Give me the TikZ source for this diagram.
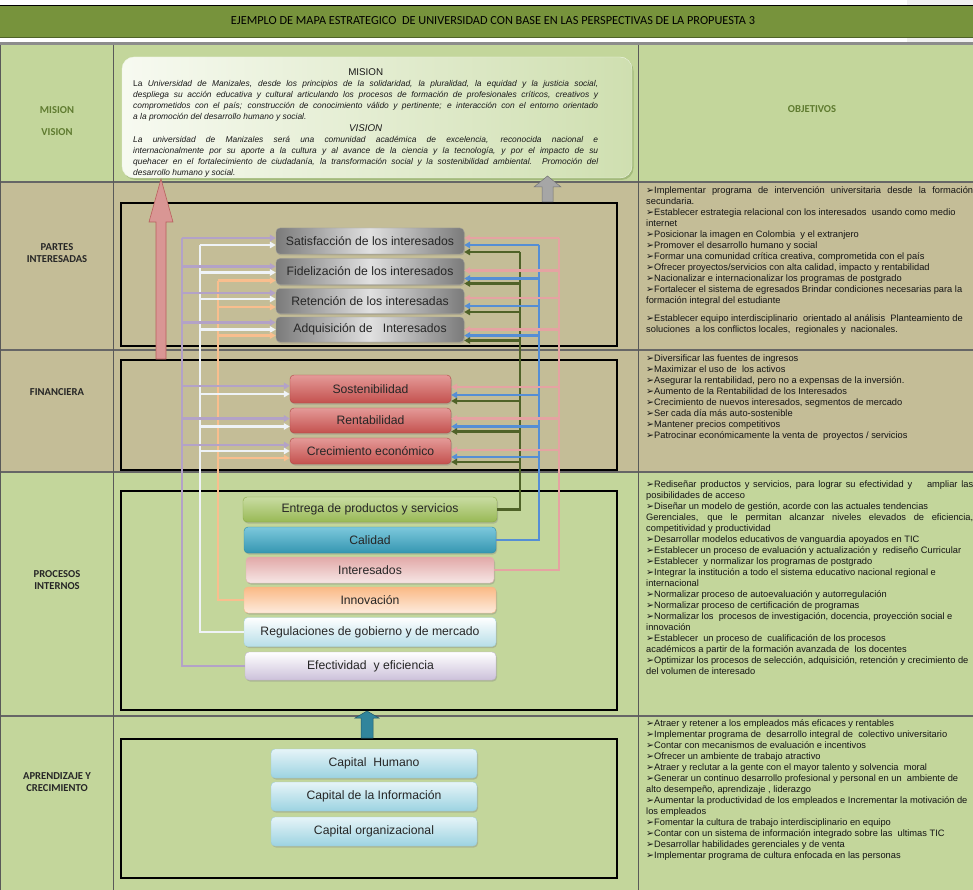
\documentclass[tikz,border=0pt]{standalone}
\usepackage{fontspec}
\setmainfont{Liberation Sans}
\newfontfamily\calfont{Carlito}
\newfontfamily\symfont{DejaVu Sans}
\usetikzlibrary{arrows.meta,calc,shadows}

\definecolor{hdrgreen}{HTML}{77933C}
\definecolor{hdrdark}{HTML}{4F6228}
\definecolor{rowgreen}{HTML}{C3D69B}
\definecolor{rowtan}{HTML}{C4BD97}
\definecolor{labelolive}{HTML}{5F7B30}
\definecolor{lavc}{HTML}{B3A2C7}
\definecolor{whitec}{HTML}{EFF3F7}
\definecolor{orangec}{HTML}{F9BE8E}
\definecolor{olivec}{HTML}{4F6228}
\definecolor{bluec}{HTML}{558ED5}
\definecolor{pinkc}{HTML}{E5A3A2}
\definecolor{bigpink}{HTML}{D99694}
\definecolor{bigpinkdark}{HTML}{B8605D}
\definecolor{tealarrow}{HTML}{31859C}
\definecolor{tealdark}{HTML}{215968}
\definecolor{textdark}{HTML}{262626}
% shading palette, named after its hex value
\newcommand\hexcolor[1]{\definecolor{HTML-#1}{HTML}{#1}}
\hexcolor{E49A98}\hexcolor{C4514E}\hexcolor{B04745}
\hexcolor{E6F4F8}\hexcolor{9CD3E1}\hexcolor{9CCBD8}
\hexcolor{F7FAF1}\hexcolor{CFDFB0}\hexcolor{EEF4E4}\hexcolor{7E9A55}
\hexcolor{C9DCA2}\hexcolor{98B955}\hexcolor{8AAA48}
\hexcolor{7CC8DC}\hexcolor{3596B1}\hexcolor{2F8AA3}
\hexcolor{E2A9A8}\hexcolor{F6E6E5}\hexcolor{E0B0AF}
\hexcolor{FAB985}\hexcolor{FDEBDD}\hexcolor{F5B888}
\hexcolor{B7DEE8}\hexcolor{A5D5E2}\hexcolor{CCC1DA}\hexcolor{C0B4D0}

% text helpers: bullet glyph, justified / natural / centred lines, line blocks
\newcommand\bulletmark{{\symfont\fontsize{9.5}{9.5}\selectfont ➢}}
\newcommand\fullline[1]{\hbox to\hsize{#1}}
\newcommand\plainline[1]{\hbox{#1}}
\newcommand\midline[1]{\hbox to\hsize{\hfil#1\hfil}}
\newcommand\textblock[2]{\vbox{\hsize=#1\relax #2}}

% arrowed branch from a vertical bus into a box side
\newcommand\branchW[4]{\coordinate (brpt) at ($(#3.west)+(0,#4)$);\draw[#1,tip] (#2 |- brpt) -- (brpt);}
\newcommand\branchE[4]{\coordinate (brpt) at ($(#3.east)+(0,#4)$);\draw[#1,tip] (#2 |- brpt) -- (brpt);}

\tikzset{
  rowsep/.style={draw=black!60, line width=1.2pt},
  colsep/.style={draw=black!65, line width=0.8pt},
  frame/.style={draw=black, line width=2.6pt},
  lbl/.style={font=\calfont\bfseries\fontsize{10.6}{11.5}\selectfont, text=black!85, align=center, inner sep=0pt},
  objtext/.style={anchor=north west, inner sep=0pt, font=\fontsize{9.3}{11}\selectfont, text=black!92},
  box/.style={rounded corners=4pt, inner sep=0pt, font=\fontsize{12.2}{14}\selectfont, text=textdark,
    drop shadow={shadow xshift=1pt, shadow yshift=-1.5pt, opacity=0.35}},
  graybox/.style={box, minimum width=188, left color=black!52, right color=black!52, middle color=black!12, draw=black!40},
  redbox/.style={box, minimum width=161, top color=HTML-E49A98, bottom color=HTML-C4514E, draw=HTML-B04745},
  capbox/.style={box, minimum width=206, minimum height=29, top color=HTML-E6F4F8, bottom color=HTML-9CD3E1, draw=HTML-9CCBD8},
  conn/.style={line width=2.2pt},
  tip/.style={-{Triangle[length=6pt,width=6.5pt]}},
  lavline/.style={conn, draw=lavc},
  whiteline/.style={conn, draw=whitec},
  orangeline/.style={conn, draw=orangec},
  oliveline/.style={conn, draw=olivec},
  blueline/.style={conn, draw=bluec},
  pinkline/.style={conn, draw=pinkc},
}

\begin{document}
\begin{tikzpicture}[x=1pt,y=-1pt]
\useasboundingbox (0,0) rectangle (973,890);
\fill[white] (0,0) rectangle (973,890);
\fill[black!6] (907,0) rectangle (973,5);
\fill[black!6] (907,38) rectangle (973,42);

% title bar
\fill[hdrgreen] (0,5) rectangle (973,38);
\draw[black, line width=0.8pt] (0,5) -- (973,5);
\draw[hdrdark, line width=1pt] (0,38) -- (973,38);
\fill[black!45] (0,42) rectangle (973,45);
\node[font=\calfont\fontsize{12.3}{13}\selectfont, text=black] (title) at (493,21)
  {EJEMPLO DE MAPA ESTRATEGICO \ DE UNIVERSIDAD CON BASE EN LAS PERSPECTIVAS DE LA PROPUESTA 3};

% row bands
\fill[rowgreen] (0,45) rectangle (973,182);
\fill[rowtan] (0,182) rectangle (973,472);
\fill[rowgreen] (0,472) rectangle (973,890);
\draw[rowsep] (0,182) -- (973,182);
\draw[rowsep] (0,350) -- (973,350);
\draw[rowsep] (0,472) -- (973,472);
\draw[rowsep] (0,716) -- (973,716);
\draw[colsep] (113,45) -- (113,890);
\draw[colsep] (638,45) -- (638,890);
\draw[colsep] (0.5,45) -- (0.5,890);

% perspective frames
\draw[frame] (121,203) rectangle (617,346);
\draw[frame] (121,360) rectangle (617,470);
\draw[frame] (121,491) rectangle (617,710);
\draw[frame] (121,739) rectangle (617,878);

% row labels
\node[lbl, text=labelolive] (lmision) at (57,110) {MISION};
\node[lbl, text=labelolive] (lvision) at (57,132) {VISION};
\node[lbl] (lpartes) at (57,253) {PARTES\\INTERESADAS};
\node[lbl] (lfin) at (57,392) {FINANCIERA};
\node[lbl] (lproc) at (57,580) {PROCESOS\\INTERNOS};
\node[lbl] (lapr) at (57,782) {APRENDIZAJE Y\\CRECIMIENTO};
\node[lbl, text=labelolive] (lobj) at (812,109) {OBJETIVOS};

% mission / vision panel
\node[rounded corners=12pt, minimum width=510, minimum height=121, inner sep=0pt,
      left color=HTML-F7FAF1, right color=HTML-CFDFB0, draw=HTML-EEF4E4,
      drop shadow={shadow xshift=1.5pt, shadow yshift=-2pt, opacity=0.45, fill=HTML-7E9A55}]
      (mv) at (377,117.5) {};
\node[anchor=north west, inner sep=0pt, font=\fontsize{8.4}{11}\selectfont, text=black!90] (mvtext) at (133,68.2)
{\textblock{465pt}{%
\midline{\fontsize{9.8}{11}\selectfont MISION}
\fullline{La \itshape Universidad de Manizales, desde los principios de la solidaridad, la pluralidad, la equidad y la justicia social,}
\fullline{\itshape despliega su acción educativa y cultural articulando los procesos de formación de profesionales críticos, creativos y}
\fullline{\itshape comprometidos con el país; construcción de conocimiento válido y pertinente; e interacción con el entorno orientado}
\plainline{\itshape a la promoción del desarrollo humano y social.}
\vskip1.5pt
\midline{\fontsize{9.8}{11}\selectfont\itshape VISION}
\fullline{\itshape La universidad de Manizales será una comunidad académica de excelencia, reconocida nacional e}
\fullline{\itshape internacionalmente por su aporte a la cultura y al avance de la ciencia y la tecnología, y por el impacto de su}
\fullline{\itshape quehacer en el fortalecimiento de ciudadanía, la transformación social y la sostenibilidad ambiental. Promoción del}
\plainline{\itshape desarrollo humano y social.}}};

% upward block arrows between perspectives
\filldraw[fill=bigpink, draw=bigpinkdark, line width=0.6pt]
  (156,359) -- (156,222) -- (149,222) -- (161,179) -- (173,222) -- (166,222) -- (166,359) -- cycle;
\filldraw[fill=black!35, draw=black!55, line width=0.5pt]
  (542,202) -- (542,187) -- (534,187) -- (547.5,176) -- (561,187) -- (553,187) -- (553,202) -- cycle;
\filldraw[fill=tealarrow, draw=tealdark, line width=0.5pt]
  (361,738) -- (361,718) -- (355,718) -- (367,711) -- (379,718) -- (373,718) -- (373,738) -- cycle;

% stakeholder objectives
\node[graybox, minimum height=26] (sat) at (370,241) {Satisfacción de los interesados};
\node[graybox, minimum height=26] (fid) at (370,271.5) {Fidelización de los interesados};
\node[graybox, minimum height=25] (ret) at (370,301) {Retención de los interesadas};
\node[graybox, minimum height=25] (adq) at (370,329.5) {Adquisición de \ \ Interesados};

% financial objectives
\node[redbox, minimum height=28] (sos) at (370.5,389) {Sostenibilidad};
\node[redbox, minimum height=25] (ren) at (370.5,420.5) {Rentabilidad};
\node[redbox, minimum height=26] (cre) at (370.5,451) {Crecimiento económico};

% internal processes
\node[box, minimum width=254, minimum height=25, top color=HTML-C9DCA2, bottom color=HTML-98B955, draw=HTML-8AAA48] (ent) at (370,509.5) {Entrega de productos y servicios};
\node[box, minimum width=252, minimum height=26, top color=HTML-7CC8DC, bottom color=HTML-3596B1, draw=HTML-2F8AA3] (cal) at (370,540) {Calidad};
\node[box, minimum width=248, minimum height=26, top color=HTML-E2A9A8, bottom color=HTML-F6E6E5, draw=HTML-E0B0AF] (int) at (370,570) {Interesados};
\node[box, minimum width=252, minimum height=26, top color=HTML-FAB985, bottom color=HTML-FDEBDD, draw=HTML-F5B888] (inn) at (370,600) {Innovación};
\node[box, minimum width=252, minimum height=29, top color=white, bottom color=HTML-B7DEE8, draw=HTML-A5D5E2] (reg) at (370,632) {Regulaciones de gobierno y de mercado};
\node[box, minimum width=251, minimum height=28, top color=white, bottom color=HTML-CCC1DA, draw=HTML-C0B4D0] (efe) at (370.5,666) {Efectividad \ y eficiencia};

% learning and growth
\node[capbox] (hum) at (374,763.5) {Capital \ Humano};
\node[capbox] (inf) at (374,796.5) {Capital de la Información};
\node[capbox] (org) at (374,831.5) {Capital organizacional};

% vertical buses
\coordinate (lavtop) at (182,238);
\coordinate (whitetop) at (200,245);
\coordinate (orangetop) at (218,280.5);
\coordinate (olivetop) at (520,252);
\coordinate (bluetop) at (539,245);
\coordinate (pinktop) at (559,238);
\draw[lavline] (efe.west) -| (lavtop);
\draw[whiteline] (reg.west) -| (whitetop);
\draw[orangeline] (inn.west) -| (orangetop);
\draw[oliveline] (ent.east) -| (olivetop);
\draw[blueline] (cal.east) -| (bluetop);
\draw[pinkline] (int.east) -| (pinktop);

% branches into the objective boxes, left side
\branchW{lavline}{lavtop}{sat}{-3}
\branchW{lavline}{lavtop}{fid}{-5}
\branchW{lavline}{lavtop}{ret}{-8}
\branchW{lavline}{lavtop}{adq}{-7}
\branchW{lavline}{lavtop}{sos}{-3}
\branchW{lavline}{lavtop}{ren}{-2}
\branchW{lavline}{lavtop}{cre}{-6}
\branchW{whiteline}{whitetop}{sat}{4}
\branchW{whiteline}{whitetop}{fid}{1}
\branchW{whiteline}{whitetop}{ret}{-2}
\branchW{whiteline}{whitetop}{adq}{0}
\branchW{whiteline}{whitetop}{sos}{5}
\branchW{whiteline}{whitetop}{ren}{6}
\branchW{whiteline}{whitetop}{cre}{0}
\branchW{orangeline}{orangetop}{fid}{9}
\branchW{orangeline}{orangetop}{ret}{6}
\branchW{orangeline}{orangetop}{adq}{6}
\branchW{orangeline}{orangetop}{cre}{7}

% branches into the objective boxes, right side
\branchE{pinkline}{pinktop}{sat}{-3}
\branchE{pinkline}{pinktop}{fid}{-1}
\branchE{pinkline}{pinktop}{ret}{-3}
\branchE{pinkline}{pinktop}{adq}{0}
\branchE{pinkline}{pinktop}{sos}{-2}
\branchE{pinkline}{pinktop}{ren}{-2}
\branchE{pinkline}{pinktop}{cre}{-1}
\branchE{blueline}{bluetop}{sat}{4}
\branchE{blueline}{bluetop}{fid}{7}
\branchE{blueline}{bluetop}{ret}{5}
\branchE{blueline}{bluetop}{adq}{6}
\branchE{blueline}{bluetop}{sos}{6}
\branchE{blueline}{bluetop}{ren}{6}
\branchE{blueline}{bluetop}{cre}{6}
\branchE{oliveline}{olivetop}{sat}{11}
\branchE{oliveline}{olivetop}{fid}{12}
\branchE{oliveline}{olivetop}{ret}{11}
\branchE{oliveline}{olivetop}{adq}{11}
\branchE{oliveline}{olivetop}{sos}{12}
\branchE{oliveline}{olivetop}{ren}{11}
\branchE{oliveline}{olivetop}{cre}{11}

% objectives column
\node[objtext] (objpartes) at (646,186.5) {\textblock{327pt}{%
\fullline{\bulletmark Implementar programa de intervención universitaria desde la formación}
\plainline{secundaria.}
\plainline{\bulletmark Establecer estrategia relacional con los interesados \ usando como medio}
\plainline{internet}
\plainline{\bulletmark Posicionar la imagen en Colombia \ y el extranjero}
\plainline{\bulletmark Promover el desarrollo humano y social}
\plainline{\bulletmark Formar una comunidad crítica creativa, comprometida con el país}
\plainline{\bulletmark Ofrecer proyectos/servicios con alta calidad, impacto y rentabilidad}
\plainline{\bulletmark Nacionalizar e internacionalizar los programas de postgrado}
\plainline{\bulletmark Fortalecer el sistema de egresados Brindar condiciones necesarias para la}
\plainline{formación integral del estudiante}
\vskip7pt
\plainline{\bulletmark Establecer equipo interdisciplinario \ orientado al análisis \ Planteamiento de}
\plainline{soluciones \ a los conflictos locales, \ regionales y \ nacionales.}}};

\node[objtext] (objfin) at (646,354.5) {\textblock{327pt}{%
\plainline{\bulletmark Diversificar las fuentes de ingresos}
\plainline{\bulletmark Maximizar el uso de \ los activos}
\plainline{\bulletmark Asegurar la rentabilidad, pero no a expensas de la inversión.}
\plainline{\bulletmark Aumento de la Rentabilidad de los Interesados}
\plainline{\bulletmark Crecimiento de nuevos interesados, segmentos de mercado}
\plainline{\bulletmark Ser cada día más auto-sostenible}
\plainline{\bulletmark Mantener precios competitivos}
\plainline{\bulletmark Patrocinar económicamente la venta de \ proyectos / servicios}}};

\node[objtext] (objproc) at (646,480.5) {\textblock{327pt}{%
\fullline{\bulletmark Rediseñar productos y servicios, para lograr su efectividad y \ \ \ ampliar las}
\plainline{posibilidades de acceso}
\plainline{\bulletmark Diseñar un modelo de gestión, acorde con las actuales tendencias}
\fullline{Gerenciales, que le permitan alcanzar niveles elevados de eficiencia,}
\plainline{competitividad y productividad}
\plainline{\bulletmark Desarrollar modelos educativos de vanguardia apoyados en TIC}
\plainline{\bulletmark Establecer un proceso de evaluación y actualización y \ rediseño Curricular}
\plainline{\bulletmark Establecer \ y normalizar los programas de postgrado}
\plainline{\bulletmark Integrar la institución a todo el sistema educativo nacional regional e}
\plainline{internacional}
\plainline{\bulletmark Normalizar proceso de autoevaluación y autorregulación}
\plainline{\bulletmark Normalizar proceso de certificación de programas}
\plainline{\bulletmark Normalizar los \ procesos de investigación, docencia, proyección social e}
\plainline{innovación}
\plainline{\bulletmark Establecer \ un proceso de \ cualificación de los procesos}
\plainline{académicos a partir de la formación avanzada de \ los docentes}
\plainline{\bulletmark Optimizar los procesos de selección, adquisición, retención y crecimiento de}
\plainline{del volumen de interesado}}};

\node[objtext] (objapr) at (646,719.5) {\textblock{327pt}{%
\plainline{\bulletmark Atraer y retener a los empleados más eficaces y rentables}
\plainline{\bulletmark Implementar programa de \ desarrollo integral de \ colectivo universitario}
\plainline{\bulletmark Contar con mecanismos de evaluación e incentivos}
\plainline{\bulletmark Ofrecer un ambiente de trabajo atractivo}
\plainline{\bulletmark Atraer y reclutar a la gente con el mayor talento y solvencia \ moral}
\plainline{\bulletmark Generar un continuo desarrollo profesional y personal en un \ ambiente de}
\plainline{alto desempeño, aprendizaje , liderazgo}
\plainline{\bulletmark Aumentar la productividad de los empleados e Incrementar la motivación de}
\plainline{los empleados}
\plainline{\bulletmark Fomentar la cultura de trabajo interdisciplinario en equipo}
\plainline{\bulletmark Contar con un sistema de información integrado sobre las \ ultimas TIC}
\plainline{\bulletmark Desarrollar habilidades gerenciales y de venta}
\plainline{\bulletmark Implementar programa de cultura enfocada en las personas}}};
\end{tikzpicture}
\end{document}
